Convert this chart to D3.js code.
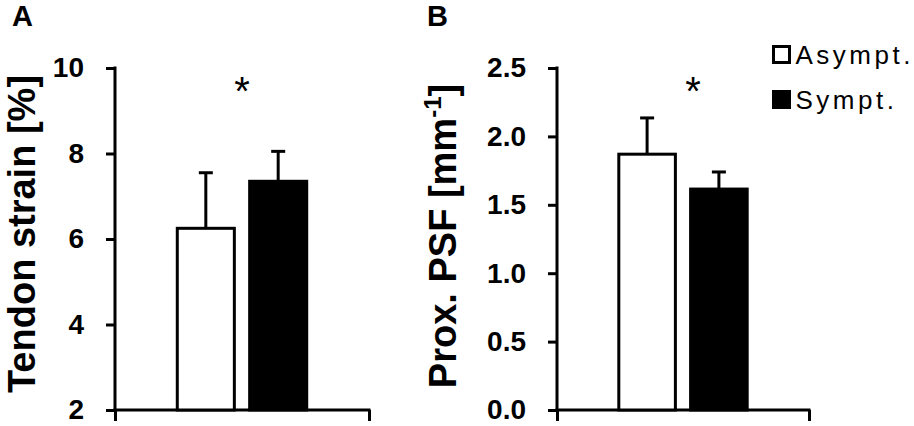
<!DOCTYPE html>
<html>
<head>
<meta charset="utf-8">
<script src="https://cdn.jsdelivr.net/npm/d3@7"></script>
<style>
  html, body { margin: 0; padding: 0; background: #fff; }
  svg { display: block; font-family: "Liberation Sans", Arial, Helvetica, sans-serif; }
</style>
</head>
<body>
<svg id="chart" width="914" height="426"></svg>
<script>
// ---- data ----
const groups = ["Asympt.", "Sympt."];
const strainMean = [6.25, 7.35];
const strainSD = [1.3, 0.7];
const psfMean = [1.87, 1.615];
const psfSD = [0.265, 0.125];
const strainTicks = [2, 4, 6, 8, 10];
const psfTicks = [0, 0.5, 1.0, 1.5, 2.0, 2.5];
const fills = ["#ffffff", "#000000"];

const svg = d3.select("#chart");
const SW = 3;

function panel(opts) {
  const g = svg.append("g");
  const y = d3.scaleLinear().domain(opts.domain).range([410, 68]);
  const x = d3.scaleBand().domain(groups).range([opts.x0, opts.x1])
    .paddingInner(0.17).paddingOuter(0.84);

  // y axis
  const ya = g.append("g").attr("transform", `translate(${opts.x0},0)`)
    .call(d3.axisLeft(y).tickValues(opts.ticks).tickFormat(opts.fmt)
      .tickSize(9).tickSizeOuter(0).tickPadding(22));
  ya.select(".domain").attr("stroke-width", SW).attr("d", `M0,${y.range()[1] - 1.5}V${y.range()[0]}`);
  ya.selectAll(".tick line").attr("stroke-width", SW);
  ya.selectAll(".tick text").attr("font-size", 28).attr("font-weight", "bold")
    .attr("font-family", "'Liberation Sans', Arial, sans-serif").attr("fill", "#000");

  // x axis (bottom) with end ticks
  const xl = d3.scaleLinear().domain([0, 1]).range([opts.x0, opts.x1]);
  const xa = g.append("g").attr("transform", `translate(0,${y.range()[0]})`)
    .call(d3.axisBottom(xl).tickValues([0, 1]).tickFormat("").tickSize(11).tickSizeOuter(0));
  xa.select(".domain").attr("stroke-width", SW).attr("d", `M${opts.x0 - 1.5},0H${opts.x1 + 1.5}`);
  xa.selectAll(".tick line").attr("stroke-width", SW);

  // error bars (upward only)
  const bw = x.bandwidth();
  groups.forEach((k, i) => {
    const cx = x(k) + bw / 2;
    g.append("line").attr("x1", cx).attr("x2", cx)
      .attr("y1", y(opts.mean[i])).attr("y2", y(opts.mean[i] + opts.sd[i]))
      .attr("stroke", "#000").attr("stroke-width", SW);
    g.append("line").attr("x1", cx - 7).attr("x2", cx + 7)
      .attr("y1", y(opts.mean[i] + opts.sd[i])).attr("y2", y(opts.mean[i] + opts.sd[i]))
      .attr("stroke", "#000").attr("stroke-width", SW);
  });

  // bars
  g.selectAll("rect.bar").data(groups).join("rect").attr("class", "bar")
    .attr("x", d => x(d) + SW / 2)
    .attr("width", bw - SW)
    .attr("y", (d, i) => y(opts.mean[i]))
    .attr("height", (d, i) => y(opts.domain[0]) - y(opts.mean[i]))
    .attr("fill", (d, i) => fills[i])
    .attr("stroke", "#000").attr("stroke-width", SW);

  // significance asterisk
  g.append("text").attr("x", (x.range()[0] + x.range()[1]) / 2 + opts.starDx).attr("y", 105)
    .attr("text-anchor", "middle").attr("font-size", 40).text("*");

  // panel letter
  g.append("text").attr("x", opts.letterX).attr("y", 26)
    .attr("font-size", 29).attr("font-weight", "bold").text(opts.letter);

  // y title
  const t = g.append("text")
    .attr("transform", `translate(${opts.titleX},${opts.titleY}) rotate(-90)`)
    .attr("text-anchor", "middle").attr("font-size", 38).attr("font-weight", "bold");
  opts.title(t);
  return { x, y };
}

panel({
  domain: [2, 10], ticks: strainTicks, fmt: d3.format("d"),
  x0: 115, x1: 369, mean: strainMean, sd: strainSD,
  starDx: 0, letter: "A", letterX: 12,
  titleX: 35, titleY: 234,
  title: t => t.text("Tendon strain [%]")
});

panel({
  domain: [0, 2.5], ticks: psfTicks, fmt: d3.format(".1f"),
  x0: 557, x1: 809, mean: psfMean, sd: psfSD,
  starDx: 10, letter: "B", letterX: 427,
  titleX: 456, titleY: 236,
  title: t => {
    t.append("tspan").text("Prox. PSF [mm");
    t.append("tspan").attr("font-size", 24).attr("dy", -15).text("-1");
    t.append("tspan").attr("dy", 15).text("]");
  }
});

// legend
const leg = svg.append("g").attr("transform", "translate(773.5,46.5)");
groups.forEach((k, i) => {
  const row = leg.append("g").attr("transform", `translate(0,${i * 45})`);
  row.append("rect").attr("width", 16).attr("height", 16)
    .attr("fill", fills[i]).attr("stroke", "#000").attr("stroke-width", SW);
  row.append("text").attr("x", 22).attr("y", 17).attr("font-size", 26)
    .attr("letter-spacing", 3.5).text(k);
});
</script>
</body>
</html>
